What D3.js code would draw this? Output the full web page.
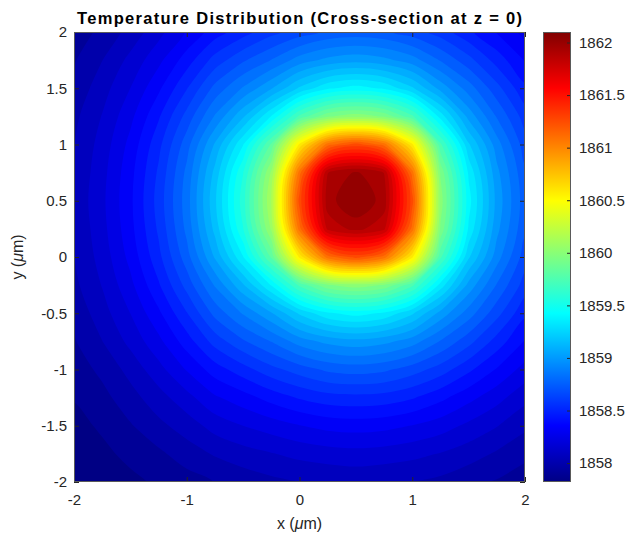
<!DOCTYPE html>
<html>
<head>
<meta charset="utf-8">
<script src="https://cdn.jsdelivr.net/npm/d3@7"></script>
<style>
  body { margin: 0; background: #fff; }
  svg { display: block; font-family: "Liberation Sans", Arial, Helvetica, sans-serif; }
  .axis text { font-size: 15px; fill: #262626; }
  .axis line { stroke: #262626; }
  .axis path { display: none; }
</style>
</head>
<body>
<svg id="chart" width="628" height="538"></svg>
<script>
// sample positions (um), x left->right, y top->bottom
var xGrid = [-2, -1.75, -1.5, -1.25, -1, -0.75, -0.5, -0.25, 0, 0.25, 0.5, 0.75, 1, 1.25, 1.5, 1.75, 2];
var yGrid = [2, 1.75, 1.5, 1.25, 1, 0.75, 0.5, 0.25, 0, -0.25, -0.5, -0.75, -1, -1.25, -1.5, -1.75, -2];

// temperature, one row per yGrid entry
var temps = [
  [1857.94,1858.01,1858.10,1858.21,1858.33,1858.45,1858.54,1858.63,1858.70,1858.76,1858.78,1858.76,1858.70,1858.62,1858.51,1858.40,1858.29],
  [1857.98,1858.07,1858.18,1858.30,1858.45,1858.61,1858.73,1858.83,1858.95,1859.02,1859.05,1859.02,1858.95,1858.82,1858.69,1858.54,1858.40],
  [1858.01,1858.12,1858.24,1858.39,1858.57,1858.77,1858.92,1859.07,1859.26,1859.40,1859.45,1859.40,1859.26,1859.05,1858.87,1858.69,1858.51],
  [1858.05,1858.16,1858.30,1858.48,1858.69,1858.92,1859.15,1859.42,1859.77,1859.99,1860.05,1859.99,1859.77,1859.38,1859.05,1858.82,1858.62],
  [1858.07,1858.19,1858.35,1858.55,1858.79,1859.09,1859.41,1859.85,1860.61,1861.14,1861.30,1861.14,1860.61,1859.77,1859.26,1858.95,1858.70],
  [1858.08,1858.21,1858.38,1858.59,1858.85,1859.19,1859.58,1860.10,1861.14,1861.93,1862.03,1861.93,1861.14,1859.99,1859.40,1859.02,1858.76],
  [1858.09,1858.22,1858.39,1858.61,1858.87,1859.23,1859.63,1860.17,1861.30,1861.98,1862.10,1861.98,1861.30,1860.05,1859.45,1859.05,1858.78],
  [1858.08,1858.21,1858.38,1858.59,1858.85,1859.19,1859.58,1860.10,1861.14,1861.87,1861.96,1861.87,1861.14,1859.99,1859.40,1859.02,1858.76],
  [1858.07,1858.19,1858.35,1858.55,1858.79,1859.09,1859.41,1859.85,1860.61,1861.14,1861.30,1861.14,1860.61,1859.77,1859.26,1858.95,1858.70],
  [1858.05,1858.16,1858.30,1858.48,1858.69,1858.92,1859.15,1859.42,1859.77,1859.99,1860.05,1859.99,1859.77,1859.38,1859.05,1858.82,1858.62],
  [1858.01,1858.12,1858.24,1858.39,1858.57,1858.77,1858.92,1859.07,1859.26,1859.40,1859.45,1859.40,1859.26,1859.05,1858.87,1858.69,1858.51],
  [1857.98,1858.07,1858.18,1858.30,1858.45,1858.61,1858.73,1858.83,1858.95,1859.02,1859.05,1859.02,1858.95,1858.82,1858.69,1858.54,1858.40],
  [1857.94,1858.01,1858.10,1858.21,1858.33,1858.45,1858.54,1858.63,1858.70,1858.76,1858.78,1858.76,1858.70,1858.62,1858.51,1858.40,1858.29],
  [1857.91,1857.96,1858.04,1858.12,1858.21,1858.31,1858.37,1858.44,1858.50,1858.54,1858.55,1858.54,1858.50,1858.43,1858.35,1858.27,1858.18],
  [1857.87,1857.92,1857.98,1858.05,1858.11,1858.19,1858.24,1858.28,1858.32,1858.35,1858.36,1858.35,1858.32,1858.28,1858.22,1858.16,1858.09],
  [1857.84,1857.88,1857.93,1857.97,1858.03,1858.08,1858.12,1858.15,1858.18,1858.20,1858.21,1858.20,1858.18,1858.15,1858.11,1858.06,1858.01],
  [1857.82,1857.84,1857.88,1857.92,1857.95,1857.99,1858.02,1858.05,1858.07,1858.08,1858.09,1858.08,1858.07,1858.05,1858.01,1857.98,1857.94]
];

var xTicks = [-2, -1, 0, 1, 2];
var yTicks = [-2, -1.5, -1, -0.5, 0, 0.5, 1, 1.5, 2];
var cbTicks = [1858, 1858.5, 1859, 1859.5, 1860, 1860.5, 1861, 1861.5, 1862];

// jet colormap stops
var jetPos = [0, 0.125, 0.375, 0.625, 0.875, 1];
var jetColors = ["#000084", "#0000ff", "#00ffff", "#ffff00", "#ff0000", "#800000"];
var nLevels = 50;

var plot = {left: 74, top: 32, width: 451, height: 450},
    cb = {left: 543, width: 28};

var svg = d3.select("#chart");

var x = d3.scaleLinear().domain([-2, 2]).range([plot.left, plot.left + plot.width]);
var y = d3.scaleLinear().domain([-2, 2]).range([plot.top + plot.height, plot.top]);

var flat = d3.merge(temps);
var ext = d3.extent(flat);
var tScale = d3.scaleLinear().domain(ext).range([0, 1]);
var jet = d3.scaleLinear().domain(jetPos).range(jetColors).clamp(true);
function color(v) { return jet(tScale(v)); }

var levels = d3.range(nLevels).map(function(k) {
  return ext[0] + (k + 1) * (ext[1] - ext[0]) / (nLevels + 1);
});

var nx = xGrid.length, ny = yGrid.length;
var contours = d3.contours().size([nx, ny]).thresholds(levels)(flat);

// grid units -> data units (sample i sits at i + 0.5)
var gx = d3.scaleLinear().domain([0.5, nx - 0.5]).range([xGrid[0], xGrid[nx - 1]]);
var gy = d3.scaleLinear().domain([0.5, ny - 0.5]).range([yGrid[0], yGrid[ny - 1]]);

var ringLine = d3.line()
    .x(function(p) { return x(gx(p[0])); })
    .y(function(p) { return y(gy(p[1])); })
    .curve(d3.curveCatmullRomClosed.alpha(0.5));

svg.append("clipPath").attr("id", "plotclip")
  .append("rect")
    .attr("x", plot.left).attr("y", plot.top)
    .attr("width", plot.width).attr("height", plot.height);

var field = svg.append("g").attr("clip-path", "url(#plotclip)");

field.append("rect")
    .attr("x", plot.left).attr("y", plot.top)
    .attr("width", plot.width).attr("height", plot.height)
    .attr("fill", color(ext[0]));

field.selectAll("path.band")
    .data(contours)
  .enter().append("path")
    .attr("class", "band")
    .attr("fill", function(d) { return color(d.value); })
    .attr("d", function(d) {
      return d.coordinates.map(function(poly) {
        return poly.map(function(ring) { return ringLine(ring.slice(0, -1)); }).join("");
      }).join("");
    });

// axes, ticks pointing inward
var fmt = function(d) { return String(d); };

svg.append("g").attr("class", "axis")
    .attr("transform", "translate(0," + (plot.top + plot.height) + ")")
    .call(d3.axisBottom(x).tickValues(xTicks).tickSize(-5).tickSizeOuter(0).tickPadding(12).tickFormat(fmt));

svg.append("g").attr("class", "axis")
    .attr("transform", "translate(0," + plot.top + ")")
    .call(d3.axisTop(x).tickValues(xTicks).tickSize(-5).tickSizeOuter(0).tickFormat(""));

svg.append("g").attr("class", "axis")
    .attr("transform", "translate(" + plot.left + ",0)")
    .call(d3.axisLeft(y).tickValues(yTicks).tickSize(-5).tickSizeOuter(0).tickPadding(7).tickFormat(fmt));

svg.append("g").attr("class", "axis")
    .attr("transform", "translate(" + (plot.left + plot.width) + ",0)")
    .call(d3.axisRight(y).tickValues(yTicks).tickSize(-5).tickSizeOuter(0).tickFormat(""));

svg.append("rect")
    .attr("x", plot.left + 0.5).attr("y", plot.top + 0.5)
    .attr("width", plot.width - 1).attr("height", plot.height - 1)
    .attr("fill", "none").attr("stroke", "#5a5a5a").attr("stroke-width", 1);

// colorbar
var grad = svg.append("defs").append("linearGradient")
    .attr("id", "jetgrad")
    .attr("x1", 0).attr("y1", 1).attr("x2", 0).attr("y2", 0);
grad.selectAll("stop")
    .data(jetPos)
  .enter().append("stop")
    .attr("offset", function(d) { return d; })
    .attr("stop-color", function(d, i) { return jetColors[i]; });

var cbScale = d3.scaleLinear().domain(ext).range([plot.top + plot.height, plot.top]);

svg.append("rect")
    .attr("x", cb.left).attr("y", plot.top)
    .attr("width", cb.width).attr("height", plot.height)
    .attr("fill", "url(#jetgrad)");

svg.append("g").attr("class", "axis")
    .attr("transform", "translate(" + (cb.left + cb.width) + ",0)")
    .call(d3.axisRight(cbScale).tickValues(cbTicks).tickSize(-4).tickSizeOuter(0).tickPadding(8).tickFormat(fmt));

svg.append("rect")
    .attr("x", cb.left + 0.5).attr("y", plot.top + 0.5)
    .attr("width", cb.width - 1).attr("height", plot.height - 1)
    .attr("fill", "none").attr("stroke", "#5a5a5a").attr("stroke-width", 1);

// title and labels
svg.append("text")
    .attr("x", plot.left + plot.width / 2).attr("y", 24)
    .attr("text-anchor", "middle")
    .attr("textLength", 445).attr("lengthAdjust", "spacing")
    .style("font-size", "16.5px").style("font-weight", "bold").style("fill", "#000")
    .text("Temperature Distribution (Cross-section at z = 0)");

var xl = svg.append("text")
    .attr("x", plot.left + plot.width / 2).attr("y", 529)
    .attr("text-anchor", "middle")
    .style("font-size", "16px").style("fill", "#262626");
xl.append("tspan").text("x (");
xl.append("tspan").style("font-style", "italic").text("\u03bc");
xl.append("tspan").text("m)");

var yl = svg.append("text")
    .attr("transform", "translate(23," + (plot.top + plot.height / 2) + ") rotate(-90)")
    .attr("text-anchor", "middle")
    .style("font-size", "16px").style("fill", "#262626");
yl.append("tspan").text("y (");
yl.append("tspan").style("font-style", "italic").text("\u03bc");
yl.append("tspan").text("m)");
</script>
</body>
</html>
